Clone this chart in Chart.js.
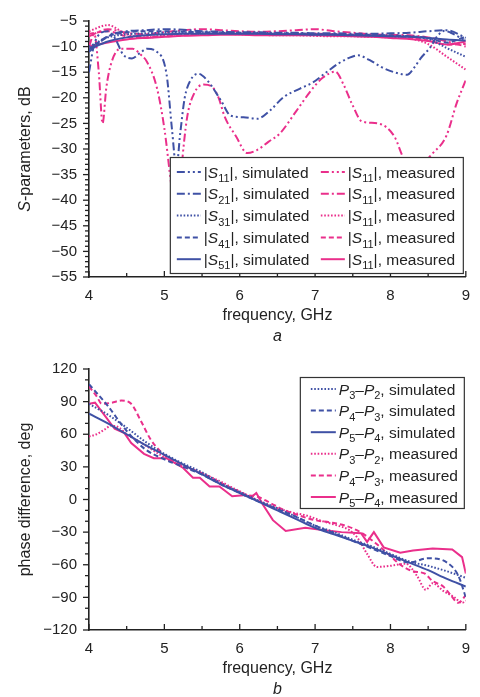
<!DOCTYPE html>
<html>
<head>
<meta charset="utf-8">
<script src="https://cdn.jsdelivr.net/npm/chart.js@4.4.1/dist/chart.umd.min.js"></script>
<style>
  html, body { margin: 0; padding: 0; background: #fff; }
  .wrap { position: absolute; left: 0; width: 480px; }
  #topWrap { top: 0; height: 348px; }
  #botWrap { top: 348px; height: 349px; }
</style>
</head>
<body>
<div class="wrap" id="topWrap"><canvas id="chartA" width="480" height="348"></canvas></div>
<div class="wrap" id="botWrap"><canvas id="chartB" width="480" height="349"></canvas></div>
<script>
// ---- (a) S-parameters, dB ----
const freqS = [4.0, 4.25, 4.5, 4.75, 5.0, 5.25, 5.5, 5.75, 6.0, 6.25, 6.5, 6.75, 7.0, 7.25, 7.5, 7.75, 8.0, 8.25, 8.5, 8.75, 9.0];

const s11SimF = [4.0, 4.08, 4.25, 4.35, 4.45, 4.57, 4.68, 4.77, 4.9, 5.03, 5.1, 5.16, 5.21, 5.27, 5.35, 5.45, 5.58, 5.75, 5.88, 6.05, 6.23, 6.4, 6.58, 6.8, 6.97, 7.15, 7.31, 7.45, 7.57, 7.72, 7.88, 8.05, 8.22, 8.32, 8.4, 8.53, 8.62, 8.72, 8.8, 8.92, 9.0];
const s11SimDb = [-15, -9, -7, -8.5, -11.5, -12.3, -11.2, -10.4, -11, -15.5, -26, -33.6, -27, -20, -16.5, -15.3, -16.8, -20.5, -23.5, -23.8, -24.1, -22.5, -19.9, -18.2, -17, -15, -13.3, -12.2, -11.7, -12.6, -14, -15, -15.5, -14, -12.3, -10.1, -8, -6.9, -7.3, -8.2, -8.8];
const s21Sim = [-11, -8, -7, -6.8, -6.6, -6.7, -7, -7.1, -7.2, -7.2, -7.3, -7.3, -7.4, -7.4, -7.5, -7.5, -7.4, -7.3, -7.0, -6.8, -8.3];
const s31Sim = [-10, -8.2, -7.6, -7.4, -7.3, -7.2, -7.2, -7.2, -7.3, -7.3, -7.4, -7.4, -7.5, -7.6, -7.7, -7.8, -7.9, -8.0, -8.5, -10.3, -12];
const s41Sim = [-10.5, -8, -7.2, -7, -7, -7.1, -7.2, -7.3, -7.4, -7.4, -7.5, -7.5, -7.6, -7.6, -7.7, -7.7, -7.8, -8, -8.3, -9.2, -8];
const s51Sim = [-10.5, -9, -8.2, -7.8, -7.6, -7.5, -7.5, -7.5, -7.5, -7.5, -7.6, -7.6, -7.7, -7.7, -7.8, -7.9, -8.0, -8.1, -8.3, -8.6, -8.8];

const s11MeasF = [4.0, 4.07, 4.13, 4.18, 4.23, 4.3, 4.42, 4.58, 4.68, 4.77, 4.9, 5.0, 5.1, 5.17, 5.22, 5.3, 5.4, 5.52, 5.63, 5.72, 5.8, 5.95, 6.1, 6.23, 6.38, 6.53, 6.75, 6.95, 7.1, 7.27, 7.38, 7.49, 7.62, 7.83, 8.05, 8.18, 8.3, 8.42, 8.55, 8.74, 8.88, 9.0];
const s11MeasDb = [-10, -7.5, -15, -25, -18, -13, -10.4, -10.4, -11.5, -13, -18, -26, -38, -44.5, -35, -24, -19, -17.4, -17.8, -20, -23.7, -27.5, -30.8, -30.2, -28.6, -27, -22.6, -18.5, -16.1, -14.9, -17.5, -21.2, -24.6, -25, -27.5, -32, -34, -33, -31, -27.5, -21, -16.5];
const s21Meas = [-8, -6.6, -7.3, -7.6, -7.2, -6.8, -6.6, -6.8, -7, -7.1, -7.0, -6.8, -6.6, -7, -7.3, -7.6, -7.7, -7.8, -8.2, -9, -10];
const s31Meas = [-7, -5.8, -7.6, -8.2, -7.8, -7.6, -7.6, -7.5, -7.6, -7.7, -7.8, -7.8, -7.9, -8, -8, -8.1, -8.2, -8.4, -9.5, -12, -14.5];
const s41Meas = [-7.5, -7, -8, -8.2, -8, -7.8, -7.6, -7.5, -7.5, -7.6, -7.6, -7.6, -7.5, -7.6, -7.8, -7.9, -8.0, -8.2, -8.8, -9.6, -9.5];
const s51Meas = [-10, -9.2, -8.6, -8.3, -8.1, -7.9, -7.8, -7.7, -7.7, -7.8, -7.8, -7.8, -7.8, -7.9, -8, -8.1, -8.3, -8.5, -8.9, -9.6, -9];

const simSubs = ['11', '21', '31', '41', '51'];
const measSubs = ['11', '11', '11', '11', '11'];

// ---- (b) phase difference, deg ----
const freqP = [4.0, 4.25, 4.5, 4.75, 5.0, 5.25, 5.5, 5.75, 6.0, 6.25, 6.5, 6.75, 7.0, 7.25, 7.5, 7.75, 8.0, 8.25, 8.5, 8.75, 9.0];
const p32Sim = [88, 78, 66, 53, 42, 33, 25, 15, 7, -1, -8, -16, -24, -30, -37, -43, -50, -57, -61, -66, -72];
const p54Sim = [79, 70, 60, 50, 41, 32, 23, 14, 6, -2, -10, -18, -26, -32, -38, -44, -51, -58, -65, -73, -80];
const p43SimF = [4.0, 4.25, 4.5, 4.75, 5.0, 5.25, 5.5, 5.75, 6.0, 6.25, 6.5, 6.75, 7.0, 7.25, 7.5, 7.75, 8.0, 8.25, 8.5, 8.75, 8.9, 9.0];
const p43Sim = [106, 86, 63, 46, 37, 30, 23, 14, 6, -2, -9, -16, -24, -31, -38, -45, -52, -58, -54, -58, -70, -90];

const p32MeasF = [4.0, 4.1, 4.2, 4.3, 4.4, 4.5, 4.7, 4.9, 5.1, 5.3, 5.5, 5.7, 5.9, 6.1, 6.3, 6.5, 6.7, 6.9, 7.1, 7.3, 7.45, 7.56, 7.69, 7.82, 8.0, 8.2, 8.35, 8.47, 8.56, 8.7, 8.85, 8.95, 9.0];
const p32Meas = [58, 60, 64, 68, 66, 60, 52, 43, 35, 29, 24, 18, 11, 4, -3, -8, -12, -15, -20, -24, -28, -35, -50, -62, -61, -59, -70, -83, -77, -84, -90, -95, -93];
const p43MeasF = [4.0, 4.1, 4.17, 4.3, 4.43, 4.56, 4.69, 4.82, 4.95, 5.1, 5.3, 5.5, 5.7, 5.9, 6.1, 6.22, 6.4, 6.6, 6.8, 7.0, 7.2, 7.4, 7.6, 7.8, 8.0, 8.13, 8.3, 8.45, 8.56, 8.7, 8.8, 8.9, 9.0];
const p43Meas = [104, 95, 88, 89, 91, 88, 72, 55, 44, 36, 30, 24, 17, 10, 4, 3, -3, -10, -15, -19, -21, -24, -30, -40, -52, -60, -66, -68, -75, -80, -88, -95, -88];
const p54MeasF = [4.0, 4.08, 4.2, 4.34, 4.47, 4.56, 4.73, 4.86, 5.03, 5.25, 5.38, 5.47, 5.6, 5.73, 5.9, 6.05, 6.15, 6.22, 6.3, 6.44, 6.61, 6.87, 7.1, 7.35, 7.61, 7.69, 7.78, 7.91, 8.13, 8.3, 8.56, 8.82, 8.95, 9.0];
const p54Meas = [88, 89, 78, 65, 61, 52, 42, 38, 38, 29, 20, 20, 12, 12, 3, 4, 2, 6, -4, -19, -29, -26, -28, -30, -31, -39, -30, -44, -49, -47, -45, -46, -53, -68];

const phasePairs = [['3', '2'], ['4', '3'], ['5', '4']];

// ---- styles ----
const chartFont = '"Liberation Sans", Arial, Helvetica, sans-serif';
const ink = '#222';
const blue = '#3f51a5';
const pink = '#ea2f8b';
const dashes = {
  ddot: [8, 3, 2, 3, 2, 3],
  dot1: [8, 3, 2, 3],
  dot: [1.6, 1.8],
  dash: [5, 3],
  solid: []
};

const pts = (xs, ys) => xs.map((x, i) => ({ x: x, y: ys[i] }));
const minusFmt = (v) => (v < 0 ? '\u2212' + Math.abs(v) : String(v));

function line(label, data, color, dash, tension) {
  return {
    label: label,
    data: data,
    borderColor: color,
    borderWidth: 2,
    borderDash: dash,
    pointRadius: 0,
    fill: false,
    tension: tension,
    cubicInterpolationMode: tension ? 'monotone' : 'default'
  };
}

function richItems(ctx, parts, size) {
  return parts.map(([t, k]) => {
    const fs = k === 's' ? Math.round(size * 0.7) : size;
    const font = (k === 'i' ? 'italic ' : '') + fs + 'px ' + chartFont;
    ctx.font = font;
    return { t: t, k: k, font: font, w: ctx.measureText(t).width };
  });
}
function drawRich(ctx, parts, x, y, size, align) {
  const items = richItems(ctx, parts, size);
  const total = items.reduce((s, it) => s + it.w, 0);
  let cx = align === 'center' ? x - total / 2 : x;
  ctx.textAlign = 'left';
  ctx.textBaseline = 'alphabetic';
  ctx.fillStyle = ink;
  items.forEach((it) => {
    ctx.font = it.font;
    ctx.fillText(it.t, cx, y + (it.k === 's' ? size * 0.3 : 0));
    cx += it.w;
  });
}

// ticks, legend box and titles
const decor = {
  id: 'decor',
  afterDatasetsDraw(chart, args, o) {
    const ctx = chart.ctx;
    const a = chart.chartArea;
    const xs = chart.scales.x;
    const ys = chart.scales.y;
    ctx.save();
    ctx.strokeStyle = ink;
    ctx.lineWidth = 1.3;
    ctx.setLineDash([]);
    for (let v = xs.min; v <= xs.max + 1e-6; v += o.xMinor) {
      const p = xs.getPixelForValue(v);
      const major = Math.abs(v - Math.round(v)) < 1e-6;
      ctx.beginPath();
      ctx.moveTo(p, a.bottom);
      ctx.lineTo(p, a.bottom - (major ? 6 : 4));
      ctx.stroke();
    }
    for (let v = ys.min; v <= ys.max + 1e-6; v += o.yMinor) {
      const p = ys.getPixelForValue(v);
      const major = Math.abs(v % o.yMajor) < 1e-6;
      ctx.beginPath();
      ctx.moveTo(a.left, p);
      ctx.lineTo(a.left - (major ? 6 : 4), p);
      ctx.stroke();
    }

    // legend
    const L = o.legend;
    const bx = a.right - L.right - L.w;
    const by = L.top != null ? a.top + L.top : a.bottom - L.bottom - L.h;
    ctx.fillStyle = '#fff';
    ctx.fillRect(bx, by, L.w, L.h);
    ctx.strokeStyle = '#333';
    ctx.lineWidth = 1.2;
    ctx.strokeRect(bx + 0.5, by + 0.5, L.w, L.h);
    chart.data.datasets.forEach((ds, i) => {
      const col = Math.floor(i / L.rows);
      const row = i % L.rows;
      const x0 = bx + L.pad + col * L.colW;
      const cy = by + L.first + row * L.rowH;
      ctx.strokeStyle = ds.borderColor;
      ctx.lineWidth = ds.borderWidth;
      ctx.setLineDash(ds.borderDash);
      ctx.beginPath();
      ctx.moveTo(x0, cy);
      ctx.lineTo(x0 + L.sample, cy);
      ctx.stroke();
      ctx.setLineDash([]);
      drawRich(ctx, o.labels[i], x0 + L.sample + 3, cy + 5.5, 15.5, 'left');
    });

    // axis titles
    drawRich(ctx, [['frequency, GHz', '']], (a.left + a.right) / 2, a.bottom + 43, 16, 'center');
    drawRich(ctx, [[o.tag, 'i']], (a.left + a.right) / 2, a.bottom + 64, 16, 'center');
    ctx.translate(o.yTitleX, (a.top + a.bottom) / 2);
    ctx.rotate(-Math.PI / 2);
    drawRich(ctx, o.yTitle, 0, 5.5, 16, 'center');
    ctx.restore();
  }
};

function scales(yMin, yMax, yStep, xHeight) {
  const tickFont = { family: chartFont, size: 15 };
  return {
    x: {
      type: 'linear', min: 4, max: 9,
      grid: { drawOnChartArea: false, drawTicks: false },
      border: { display: true, color: ink, width: 1.6 },
      ticks: { stepSize: 1, color: ink, font: tickFont, padding: 10 },
      afterFit: (s) => { s.height = xHeight; }
    },
    y: {
      type: 'linear', min: yMin, max: yMax,
      grid: { drawOnChartArea: false, drawTicks: false },
      border: { display: true, color: ink, width: 1.6 },
      ticks: { stepSize: yStep, color: ink, font: tickFont, padding: 12, callback: minusFmt },
      afterFit: (s) => { s.width = 89; }
    }
  };
}

const sLabel = (sub, kind) => [['|', ''], ['S', 'i'], [sub, 's'], ['|, ' + kind, '']];
const pLabel = (pair, kind) => [['P', 'i'], [pair[0], 's'], ['\u2013', ''], ['P', 'i'], [pair[1], 's'], [', ' + kind, '']];

const styleOrder = ['ddot', 'dot1', 'dot', 'dash', 'solid'];
const simS = [pts(s11SimF, s11SimDb), pts(freqS, s21Sim), pts(freqS, s31Sim), pts(freqS, s41Sim), pts(freqS, s51Sim)];
const measS = [pts(s11MeasF, s11MeasDb), pts(freqS, s21Meas), pts(freqS, s31Meas), pts(freqS, s41Meas), pts(freqS, s51Meas)];

const dsA = [];
simS.forEach((d, i) => dsA.push(line('S' + simSubs[i] + ' simulated', d, blue, dashes[styleOrder[i]], 0.4)));
measS.forEach((d, i) => dsA.push(line('S' + measSubs[i] + ' measured', d, pink, dashes[styleOrder[i]], 0.4)));

new Chart(document.getElementById('chartA'), {
  type: 'line',
  data: { datasets: dsA },
  options: {
    responsive: false,
    animation: false,
    layout: { padding: { top: 15, right: 6, left: 0, bottom: 0 } },
    scales: scales(-55, -5, 5, 71),
    plugins: {
      legend: { display: false },
      tooltip: { enabled: false },
      decor: {
        xMinor: 0.5, yMinor: 1, yMajor: 5, tag: 'a', yTitleX: 24,
        yTitle: [['S', 'i'], ['-parameters, dB', '']],
        labels: simSubs.map((s) => sLabel(s, 'simulated')).concat(measSubs.map((s) => sLabel(s, 'measured'))),
        legend: { right: 3, bottom: 4, w: 293, h: 116, rows: 5, pad: 7, colW: 144, sample: 24, first: 15, rowH: 21.8 }
      }
    }
  },
  plugins: [decor]
});

const dsB = [
  line('P3-P2 simulated', pts(freqP, p32Sim), blue, dashes.dot, 0.4),
  line('P4-P3 simulated', pts(p43SimF, p43Sim), blue, dashes.dash, 0.4),
  line('P5-P4 simulated', pts(freqP, p54Sim), blue, dashes.solid, 0.4),
  line('P3-P2 measured', pts(p32MeasF, p32Meas), pink, dashes.dot, 0.2),
  line('P4-P3 measured', pts(p43MeasF, p43Meas), pink, dashes.dash, 0.3),
  line('P5-P4 measured', pts(p54MeasF, p54Meas), pink, dashes.solid, 0)
];

new Chart(document.getElementById('chartB'), {
  type: 'line',
  data: { datasets: dsB },
  options: {
    responsive: false,
    animation: false,
    layout: { padding: { top: 19, right: 6, left: 0, bottom: 0 } },
    scales: scales(-120, 120, 30, 67),
    plugins: {
      legend: { display: false },
      tooltip: { enabled: false },
      decor: {
        xMinor: 0.5, yMinor: 10, yMajor: 30, tag: 'b', yTitleX: 24,
        yTitle: [['phase difference, deg', '']],
        labels: phasePairs.map((p) => pLabel(p, 'simulated')).concat(phasePairs.map((p) => pLabel(p, 'measured'))),
        legend: { right: 2, top: 8, w: 164, h: 131, rows: 6, pad: 11, colW: 0, sample: 25, first: 12, rowH: 21.6 }
      }
    }
  },
  plugins: [decor]
});
</script>
</body>
</html>
